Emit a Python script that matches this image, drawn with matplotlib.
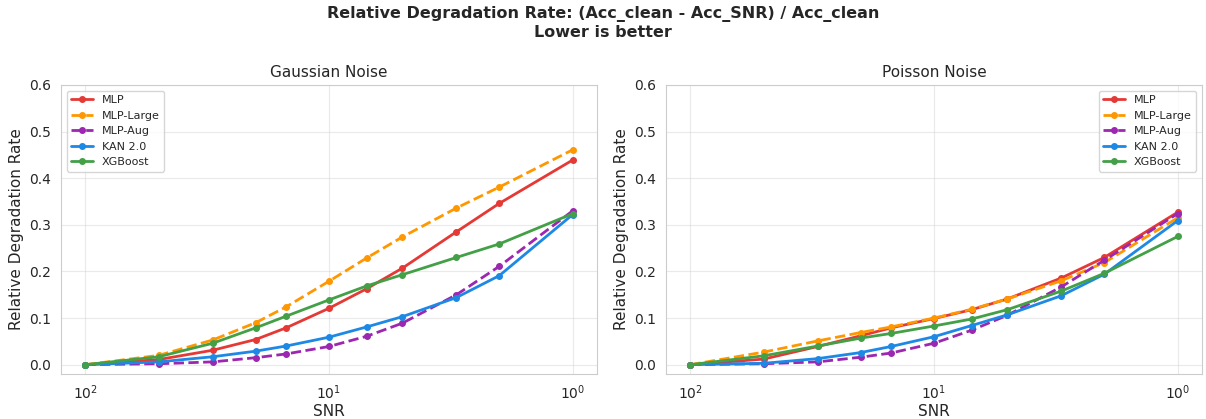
import numpy as np
import matplotlib
matplotlib.use("Agg")
import matplotlib.pyplot as plt
import seaborn as sns

sns.set_style("whitegrid")
plt.rcParams['font.family'] = ['DejaVu Sans']

# SNR levels (x axis, log scale, shown from high to low)
snr = [100, 50, 30, 20, 15, 10, 7, 5, 3, 2, 1]

models = ["MLP", "MLP-Large", "MLP-Aug", "KAN 2.0", "XGBoost"]
colors = ["#e53935", "#ff9800", "#9c27b0", "#1e88e5", "#43a047"]
styles = ["-", "--", "--", "-", "-"]

# relative degradation, Gaussian noise
gauss_mlp = [0, 0.011, 0.031, 0.054, 0.079, 0.121, 0.163, 0.207, 0.285, 0.346, 0.439]
gauss_mlp_large = [0, 0.020, 0.053, 0.090, 0.124, 0.179, 0.229, 0.274, 0.336, 0.381, 0.461]
gauss_mlp_aug = [0, 0.002, 0.006, 0.015, 0.023, 0.039, 0.061, 0.089, 0.150, 0.211, 0.330]
gauss_kan = [0, 0.006, 0.017, 0.029, 0.040, 0.059, 0.081, 0.103, 0.144, 0.191, 0.322]
gauss_xgb = [0, 0.017, 0.046, 0.079, 0.104, 0.139, 0.169, 0.193, 0.230, 0.259, 0.324]

# relative degradation, Poisson noise
pois_mlp = [0, 0.012, 0.039, 0.062, 0.079, 0.099, 0.118, 0.141, 0.186, 0.230, 0.327]
pois_mlp_large = [0, 0.027, 0.051, 0.069, 0.081, 0.100, 0.119, 0.141, 0.180, 0.219, 0.315]
pois_mlp_aug = [0, 0.002, 0.006, 0.016, 0.025, 0.046, 0.074, 0.106, 0.167, 0.224, 0.324]
pois_kan = [0, 0.003, 0.013, 0.026, 0.039, 0.060, 0.084, 0.107, 0.148, 0.194, 0.309]
pois_xgb = [0, 0.019, 0.040, 0.057, 0.067, 0.083, 0.098, 0.118, 0.158, 0.196, 0.275]

gauss = [gauss_mlp, gauss_mlp_large, gauss_mlp_aug, gauss_kan, gauss_xgb]
pois = [pois_mlp, pois_mlp_large, pois_mlp_aug, pois_kan, pois_xgb]

fig = plt.figure(figsize=(12.06, 4.19), dpi=100)
ax1 = fig.add_axes([61/1206, 1 - 374/419, 536/1206, 289/419])
ax2 = fig.add_axes([666/1206, 1 - 374/419, 536/1206, 289/419])

for ax, data, title, loc in [(ax1, gauss, "Gaussian Noise", "upper left"),
                             (ax2, pois, "Poisson Noise", "upper right")]:
    for name, vals, c, ls in zip(models, data, colors, styles):
        ax.plot(snr, vals, ls, color=c, lw=2, marker="o", ms=4, label=name)
    ax.set_xscale("log")
    ax.invert_xaxis()
    ax.set_ylim(-0.02, 0.6)
    ax.set_title(title, fontsize=11)
    ax.set_xlabel("SNR", fontsize=11, labelpad=1)
    ax.set_ylabel("Relative Degradation Rate", fontsize=11)
    ax.tick_params(labelsize=10)
    ax.grid(True, alpha=0.4)
    for s in ax.spines.values():
        s.set_color("#cccccc")
    ax.legend(loc=loc, fontsize=8)

fig.suptitle("Relative Degradation Rate: (Acc_clean - Acc_SNR) / Acc_clean\nLower is better",
             fontsize=11.5, fontweight="bold", y=0.985)

fig.savefig("out.png", dpi=100)
